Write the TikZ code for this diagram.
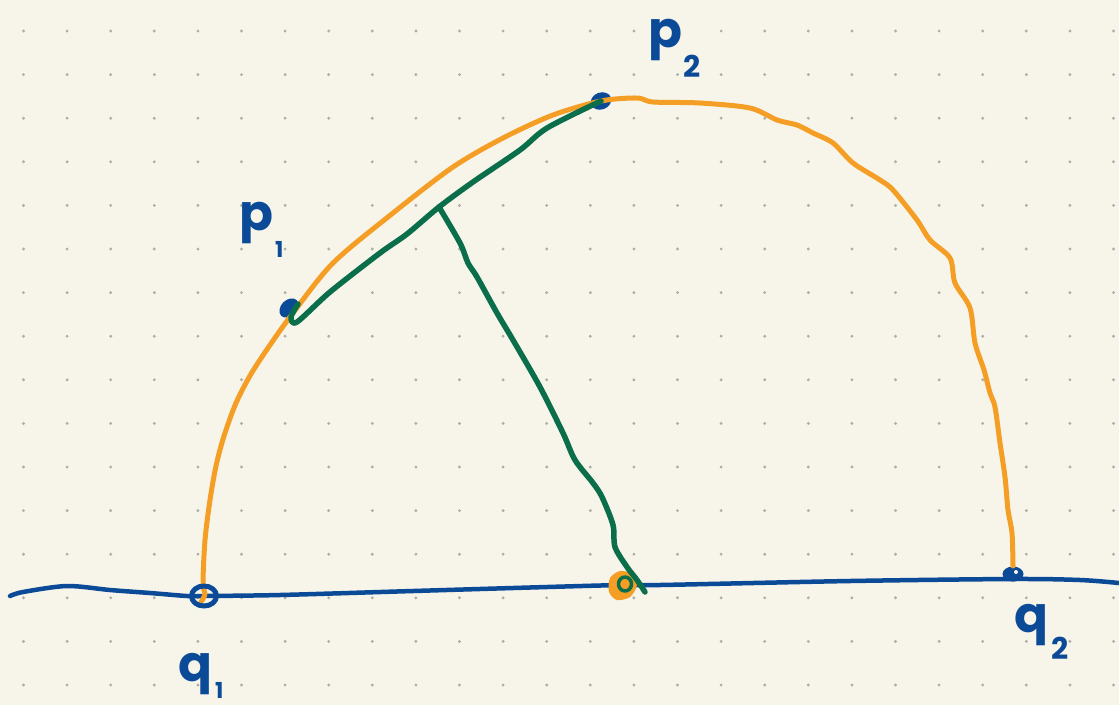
\documentclass[tikz,border=0pt]{standalone}
\usepackage{fontspec}
\newfontfamily\handfont{Poppins}
\definecolor{paper}{HTML}{F7F5EA}
\definecolor{griddot}{HTML}{AFAEA6}
\definecolor{inkblue}{HTML}{0B4A97}
\definecolor{inkorange}{HTML}{F59E25}
\definecolor{inkgreen}{HTML}{0A6E4A}
\newcommand\handlab[5]{{\handfont\bfseries\fontsize{50}{50}\selectfont #1\kern#4pt\raisebox{-#3pt}{\fontsize{#5}{#5}\selectfont #2}}}
\tikzset{
  blueline/.style={draw=inkblue, line width=4.5},
  orangeline/.style={draw=inkorange, line width=5},
  greenline/.style={draw=inkgreen, line width=5.5},
  handlabel/.style={text=inkblue, inner sep=0pt, anchor=base west},
}
\begin{document}
\begin{tikzpicture}[x=1pt,y=-1pt,line cap=round,line join=round]
\fill[paper] (0,0) rectangle (1119,705);
\useasboundingbox (0,0) rectangle (1119,705);
\foreach \i in {0,...,25}{
  \foreach \j in {0,...,15}{
    \fill[griddot] ({23.5+43.6*\i},{31+43.6*\j}) circle (1.6);
  }
}
% key points
\coordinate (q1) at (204,596);
\coordinate (q2) at (1013,574);
\coordinate (p1) at (289,308);
\coordinate (p2) at (601,101);
\coordinate (foot) at (622,585);
\coordinate (mid) at (439,207);
% blue base line
\draw[blueline] plot[smooth] coordinates {(10,596) (23,592) (67,586) (110,590) (150,593) (187,596) (q1) (280,595) (413,591) (547,587) (foot) (660,585) (850,581) (1013,579) (1080,580) (1119,583)};
% blue point markers
\fill[inkblue, rotate around={45:(p1)}] (p1) ellipse [x radius=11, y radius=8];
\fill[inkblue, rotate around={20:(p2)}] (p2) ellipse [x radius=10.5, y radius=8.5];
\fill[inkblue] (q2) ellipse [x radius=10.5, y radius=7.5];
\fill[paper] (1016,572) circle (2);
% orange arc
\draw[orangeline] plot[smooth] coordinates {(201,602) (205,594) (203,583) (205,540) (210,500) (216,466) (224,436) (236,403) (251,374) (270,345) (293,313) (333,263) (393,213) (453,167) (503,138) (553,115) (p2) (637,98) (653,102) (700,103) (750,108) (777,120) (797,125) (813,133) (833,143) (853,163) (880,180) (893,190) (917,220) (930,240) (950,258) (955,283) (970,308) (975,343) (984,370) (990,393) (995,407) (1000,443) (1005,477) (1008,510) (1012,533) (1013,566)};
% q1 ring
\draw[inkblue, line width=5] (q1) ellipse [x radius=12.5, y radius=10];
% orange foot point
\fill[inkorange] plot[smooth cycle] coordinates {(610,578) (620,571) (632,574) (637,585) (630,597) (617,600) (609,592)};
% green chord p1 - p2
\draw[greenline] plot[smooth] coordinates {(298,304) (291,317) (297,322) (330,292) (380,253) (407,234) (mid) (473,182) (520,150) (547,128) (p2)};
% green perpendicular to the base line
\draw[greenline] plot[smooth] coordinates {(mid) (460,243) (468,263) (477,277) (497,313) (513,340) (540,387) (563,433) (575,460) (593,483) (602,497) (613,525) (615,547) (627,567) (637,580) (645,592)};
\draw[inkgreen, line width=3.5] (625,584) ellipse [x radius=6.5, y radius=7];
% labels
\node[handlabel] (lp2) at (648,47) {\handlab{p}{2}{30}{1}{30}};
\node[handlabel] (lp1) at (239,230) {\handlab{p}{1}{27}{2}{22}};
\node[handlabel] (lq1) at (178,681) {\handlab{q}{1}{17}{3}{22}};
\node[handlabel] (lq2) at (1014,632) {\handlab{q}{2}{27}{3}{30}};
\end{tikzpicture}
\end{document}
